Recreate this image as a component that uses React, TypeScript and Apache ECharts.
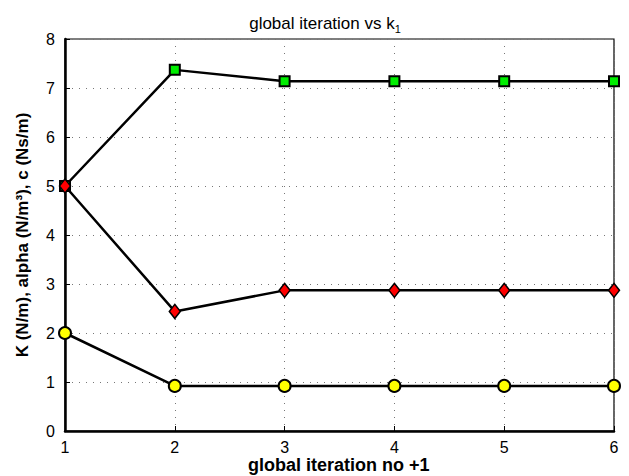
import React, { useEffect, useRef } from "react";
import * as echarts from "echarts";

const iterations = [1, 2, 3, 4, 5, 6];
const kValues = [5, 7.37, 7.14, 7.14, 7.14, 7.14];
const alphaValues = [5, 2.44, 2.87, 2.87, 2.87, 2.87];
const cValues = [2, 0.92, 0.92, 0.92, 0.92, 0.92];
const yTicks = [0, 1, 2, 3, 4, 5, 6, 7, 8];

const FONT = "Liberation Sans, Arial, Helvetica, sans-serif";

export default function App() {
  const ref = useRef<HTMLDivElement>(null);
  useEffect(() => {
    const chart = echarts.init(ref.current!, null, { renderer: "svg" });
    const mk = (vals: number[]) => iterations.map((x, i) => [x, vals[i]]);
    const lineStyle = { color: "#000", width: 2.5 };
    chart.setOption({
      animation: false,
      backgroundColor: "#fff",
      title: {
        text: "global iteration vs k{sub|1}",
        left: 320,
        textAlign: "center",
        top: 8,
        textStyle: {
          fontFamily: FONT,
          fontSize: 17,
          fontWeight: "normal",
          color: "#000",
          rich: {
            sub: { fontSize: 11, verticalAlign: "bottom", padding: [10, 0, 0, 0], fontFamily: FONT, color: "#000" },
          },
        },
      },
      graphic: [
        {
          type: "text",
          left: 248,
          top: 456,
          style: {
            text: "global iteration no +1",
            fontFamily: FONT,
            fontSize: 18,
            fontWeight: "bold",
            fill: "#000",
          },
        },
      ],
      grid: {
        left: 65,
        right: 15,
        top: 39,
        bottom: 45,
        show: true,
        borderColor: "#000",
        borderWidth: 1.2,
        outerBoundsMode: "none",
        containLabel: false,
      },
      xAxis: {
        type: "value",
        min: 1,
        max: 6,
        interval: 1,
        axisLine: { show: true, lineStyle: { color: "#000", width: 2.5 } },
        axisTick: { show: true, inside: true, length: 5, lineStyle: { color: "#000" } },
        axisLabel: { fontFamily: FONT, fontSize: 16, color: "#000", margin: 8 },
        splitLine: { show: true, lineStyle: { color: "#777", type: [1, 6], width: 1 } },
      },
      yAxis: {
        type: "value",
        min: yTicks[0],
        max: yTicks[yTicks.length - 1],
        interval: 1,
        name: "K (N/m), alpha (N/m³), c (Ns/m)",
        nameLocation: "middle",
        nameGap: 34,
        nameTextStyle: { fontFamily: FONT, fontSize: 17, fontWeight: "bold", color: "#000" },
        axisLine: { show: true, lineStyle: { color: "#000", width: 2.5 } },
        axisTick: { show: true, inside: true, length: 5, lineStyle: { color: "#000" } },
        axisLabel: { fontFamily: FONT, fontSize: 16, color: "#000", margin: 10 },
        splitLine: { show: true, lineStyle: { color: "#777", type: [1, 6], width: 1 } },
      },
      series: [
        {
          name: "K",
          type: "line",
          data: mk(kValues),
          symbol: "rect",
          symbolSize: 10,
          showAllSymbol: true,
          lineStyle,
          itemStyle: { color: "#00ee00", borderColor: "#000", borderWidth: 2 },
          z: 2,
        },
        {
          name: "alpha",
          type: "line",
          data: mk(alphaValues),
          symbol: "diamond",
          symbolSize: [11, 14],
          showAllSymbol: true,
          lineStyle,
          itemStyle: { color: "#ff0000", borderColor: "#000", borderWidth: 1.5 },
          z: 3,
        },
        {
          name: "c",
          type: "line",
          data: mk(cValues),
          symbol: "circle",
          symbolSize: 12,
          showAllSymbol: true,
          lineStyle,
          itemStyle: { color: "#ffff00", borderColor: "#000", borderWidth: 2 },
          z: 4,
        },
      ],
    });
    return () => chart.dispose();
  }, []);
  return <div ref={ref} style={{ width: 629, height: 476, position: "absolute", left: 0, top: 0 }} />;
}
